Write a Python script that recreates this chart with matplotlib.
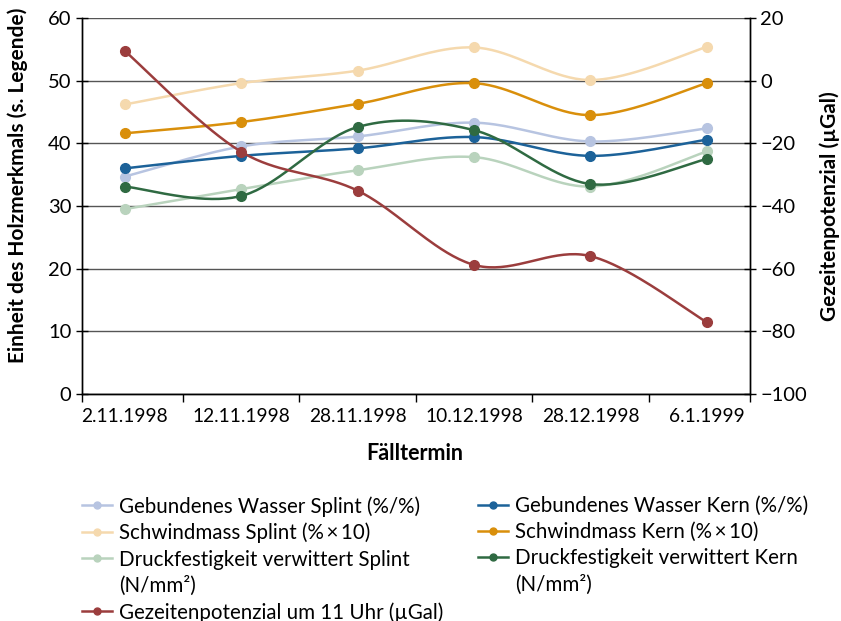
import numpy as np
import matplotlib
matplotlib.use("Agg")
import matplotlib.pyplot as plt
from matplotlib.lines import Line2D

plt.rcParams['font.family'] = ['Lato', 'DejaVu Sans']

dates = ["2.11.1998", "12.11.1998", "28.11.1998", "10.12.1998", "28.12.1998", "6.1.1999"]

gw_splint = [34.7, 39.5, 41.1, 43.3, 40.3, 42.4]
gw_kern = [36.0, 38.0, 39.2, 41.0, 38.0, 40.6]
sm_splint = [46.2, 49.6, 51.6, 55.3, 50.1, 55.4]
sm_kern = [41.6, 43.4, 46.3, 49.6, 44.5, 49.6]
df_splint = [29.5, 32.7, 35.7, 37.8, 33.1, 38.7]
df_kern = [33.1, 31.6, 42.6, 42.1, 33.5, 37.5]
gezeiten = [9.5, -22.7, -35.1, -58.8, -56.0, -77.1]

labels = [
    "Gebundenes Wasser Splint (%/%)",
    "Gebundenes Wasser Kern (%/%)",
    "Schwindmass Splint (%\u2009×\u200910)",
    "Schwindmass Kern (%\u2009×\u200910)",
    "Druckfestigkeit verwittert Splint",
    "Druckfestigkeit verwittert Kern",
    "Gezeitenpotenzial um 11 Uhr (µGal)",
]
unit_line = "(N/mm²)"
colors = ["#b7c4e1", "#1c6299", "#f5d9ae", "#d98f0b", "#b9d3bd", "#2f6a42", "#9b3d3d"]


def smooth(y, n=40):
    x = np.arange(len(y), dtype=float)
    P = np.column_stack([x, np.asarray(y, float)])
    out = [P[0:1]]
    t = np.linspace(0, 1, n)[1:, None]
    for i in range(len(P) - 1):
        p0 = P[i - 1] if i > 0 else P[i]
        p1, p2 = P[i], P[i + 1]
        p3 = P[i + 2] if i + 2 < len(P) else P[i + 1]
        c1 = p1 + (p2 - p0) / 6
        c2 = p2 - (p3 - p1) / 6
        seg = ((1 - t) ** 3) * p1 + 3 * ((1 - t) ** 2) * t * c1 + 3 * (1 - t) * t ** 2 * c2 + t ** 3 * p2
        out.append(seg)
    s = np.vstack(out)
    return s[:, 0], s[:, 1]


W, H = 841, 621
fig = plt.figure(figsize=(W / 100, H / 100), dpi=100)
ax = fig.add_axes([81.7 / W, 1 - 394 / H, (750 - 81.7) / W, (394 - 18) / H])
ax2 = ax.twinx()

left_series = [gw_splint, gw_kern, sm_splint, sm_kern, df_splint, df_kern]
lw = 1.8
ms = 7
for vals, c in zip(left_series, colors[:6]):
    sx, sy = smooth(vals)
    ax.plot(sx, sy, color=c, lw=lw, solid_capstyle='round', zorder=3)
    ax.plot(np.arange(len(vals)), vals, 'o', color=c, ms=ms, zorder=4)

sx, sy = smooth(gezeiten)
ax2.plot(sx, sy, color=colors[6], lw=lw, zorder=3)
ax2.plot(np.arange(len(gezeiten)), gezeiten, 'o', color=colors[6], ms=ms, zorder=4)

xlo, xhi = -0.37, 5.37
ax.set_xlim(xlo, xhi)
ax.set_ylim(0, 60)
ax2.set_ylim(-100, 20)
ax.set_yticks(np.arange(0, 61, 10))
ax2.set_yticks(np.arange(-100, 21, 20))
ax.set_xticks(np.arange(len(dates)))
ax.set_xticklabels(dates)
ax.set_xticks([xlo] + list(np.arange(0.5, 5, 1)) + [xhi], minor=True)
fs = 13.8
ax.tick_params(axis='x', which='major', length=0, labelsize=fs, pad=10)
ax.tick_params(axis='x', which='minor', length=6, width=1, direction='out')
ax.tick_params(axis='y', length=9, width=1, direction='inout', labelsize=14.5, pad=3)
ax2.tick_params(axis='y', length=9, width=1, direction='inout', labelsize=14.5, pad=3)

ax.grid(axis='y', color='#555555', lw=1)
ax.set_axisbelow(True)
for a in (ax, ax2):
    a.spines['top'].set_visible(False)
    for s in ('left', 'right', 'bottom'):
        a.spines[s].set_linewidth(1)

fig.text(18 / W, 1 - 185 / H, "Einheit des Holzmerkmals (s. Legende)", rotation=90,
         fontsize=15, fontweight='bold', ha='center', va='center')
fig.text(830 / W, 1 - 206 / H, "Gezeitenpotenzial (µGal)", rotation=90,
         fontsize=15, fontweight='bold', ha='center', va='center')
fig.text(415 / W, 1 - 454 / H, "Fälltermin", fontsize=15.5, fontweight='bold',
         ha='center', va='center')

lfs = 14.8
common = dict(loc='upper left', frameon=False, fontsize=lfs, handlelength=1.45,
              handletextpad=0.35, labelspacing=0.3, borderaxespad=0, borderpad=0)
blank = Line2D([], [], color='none')


def handle(i):
    return Line2D([], [], color=colors[i], lw=lw, marker='o', ms=5)


h1 = [handle(0), handle(2), handle(4), blank, handle(6)]
t1 = [labels[0], labels[2], labels[4], unit_line, labels[6]]
h2 = [handle(1), handle(3), handle(5), blank]
t2 = [labels[1], labels[3], labels[5], unit_line]
leg1 = fig.legend(h1, t1, bbox_to_anchor=(82 / W, 1 - 496 / H), **common)
leg2 = fig.legend(h2, t2, bbox_to_anchor=(478 / W, 1 - 496 / H), **common)

fig.savefig("out.png", dpi=100)
